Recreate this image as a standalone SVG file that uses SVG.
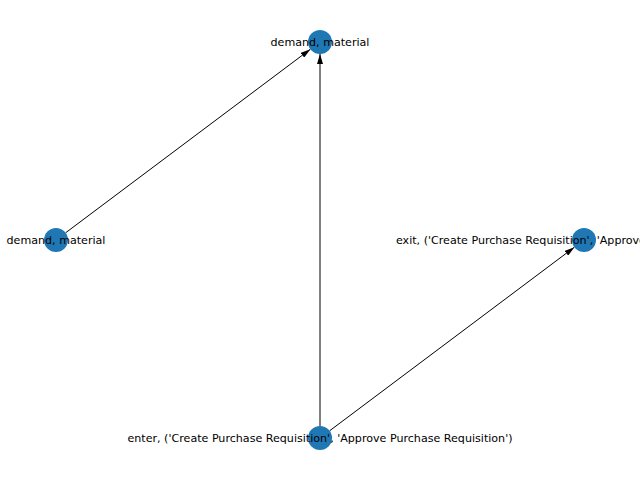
<svg xmlns="http://www.w3.org/2000/svg" width="640" height="480" viewBox="0 0 640 480">
<style>
.node{fill:#1f77b4;}
.lbl{font-family:"DejaVu Sans",sans-serif;font-size:11.1px;fill:#000;text-anchor:middle;dominant-baseline:central;}
.edge{stroke:#000;stroke-width:1;fill:none;marker-end:url(#arr);}
</style>
<defs>
<marker id="arr" viewBox="0 0 10 6" refX="10" refY="3" markerWidth="10" markerHeight="6" markerUnits="userSpaceOnUse" orient="auto">
<path d="M0,0 L10,3 L0,6 Z" fill="#000"/>
</marker>
</defs>
<rect width="640" height="480" fill="#fff"/>
<g id="edges">
<line class="edge" x1="65.6" y1="232.8" x2="310.4" y2="49.2"/>
<line class="edge" x1="320" y1="426" x2="320" y2="54"/>
<line class="edge" x1="329.6" y1="430.8" x2="574.4" y2="247.2"/>
</g>
<g id="n_top"><circle class="node" cx="320" cy="42" r="12"/><text class="lbl" x="320" y="42">demand, material</text></g>
<g id="n_left"><circle class="node" cx="56" cy="240" r="12"/><text class="lbl" x="56" y="240">demand, material</text></g>
<g id="n_right"><circle class="node" cx="584" cy="240" r="12"/><text class="lbl" x="584" y="240">exit, ('Create Purchase Requisition', 'Approve Purchase Requisition')</text></g>
<g id="n_bottom"><circle class="node" cx="320" cy="438" r="12"/><text class="lbl" x="320" y="438">enter, ('Create Purchase Requisition', 'Approve Purchase Requisition')</text></g>
</svg>
